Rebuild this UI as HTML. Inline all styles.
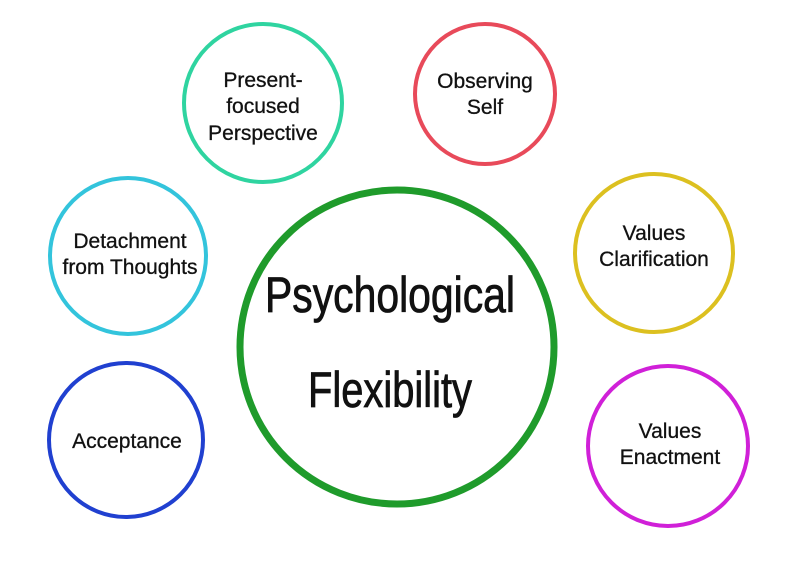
<!DOCTYPE html>
<html><head><meta charset="utf-8"><style>
html,body{margin:0;padding:0;background:#fff;}
svg{display:block}
text{font-family:"Liberation Sans",sans-serif;fill:#111;}
</style></head><body>
<svg width="800" height="561" viewBox="0 0 800 561" xmlns="http://www.w3.org/2000/svg">
<g fill="none" stroke-linecap="round">
<circle cx="397" cy="347" r="157" stroke="#1f9b2b" stroke-width="7"/>
<circle cx="263" cy="103" r="79" stroke="#2fd4a0" stroke-width="4"/>
<circle cx="485" cy="94" r="70" stroke="#e84a5a" stroke-width="4"/>
<circle cx="128" cy="256" r="78" stroke="#33c4dc" stroke-width="4"/>
<circle cx="654" cy="253" r="79" stroke="#dcc020" stroke-width="4"/>
<circle cx="126" cy="440" r="77" stroke="#2040d0" stroke-width="4"/>
<circle cx="668" cy="446" r="80" stroke="#d020d8" stroke-width="4"/>
</g>
<text x="265" y="312" font-size="50" stroke="#111" stroke-width="0.8" textLength="250" lengthAdjust="spacingAndGlyphs">Psychological</text>
<text x="308" y="407" font-size="50" stroke="#111" stroke-width="0.8" textLength="164" lengthAdjust="spacingAndGlyphs">Flexibility</text>
<g font-size="21" text-anchor="middle" stroke="#111" stroke-width="0.3">
<text x="263" y="87">Present-</text>
<text x="263" y="113">focused</text>
<text x="263" y="140">Perspective</text>
<text x="485" y="88">Observing</text>
<text x="485" y="114">Self</text>
<text x="130" y="248">Detachment</text>
<text x="130" y="274">from Thoughts</text>
<text x="654" y="240">Values</text>
<text x="654" y="266">Clarification</text>
<text x="127" y="448">Acceptance</text>
<text x="670" y="438">Values</text>
<text x="670" y="464">Enactment</text>
</g>
</svg>
</body></html>
